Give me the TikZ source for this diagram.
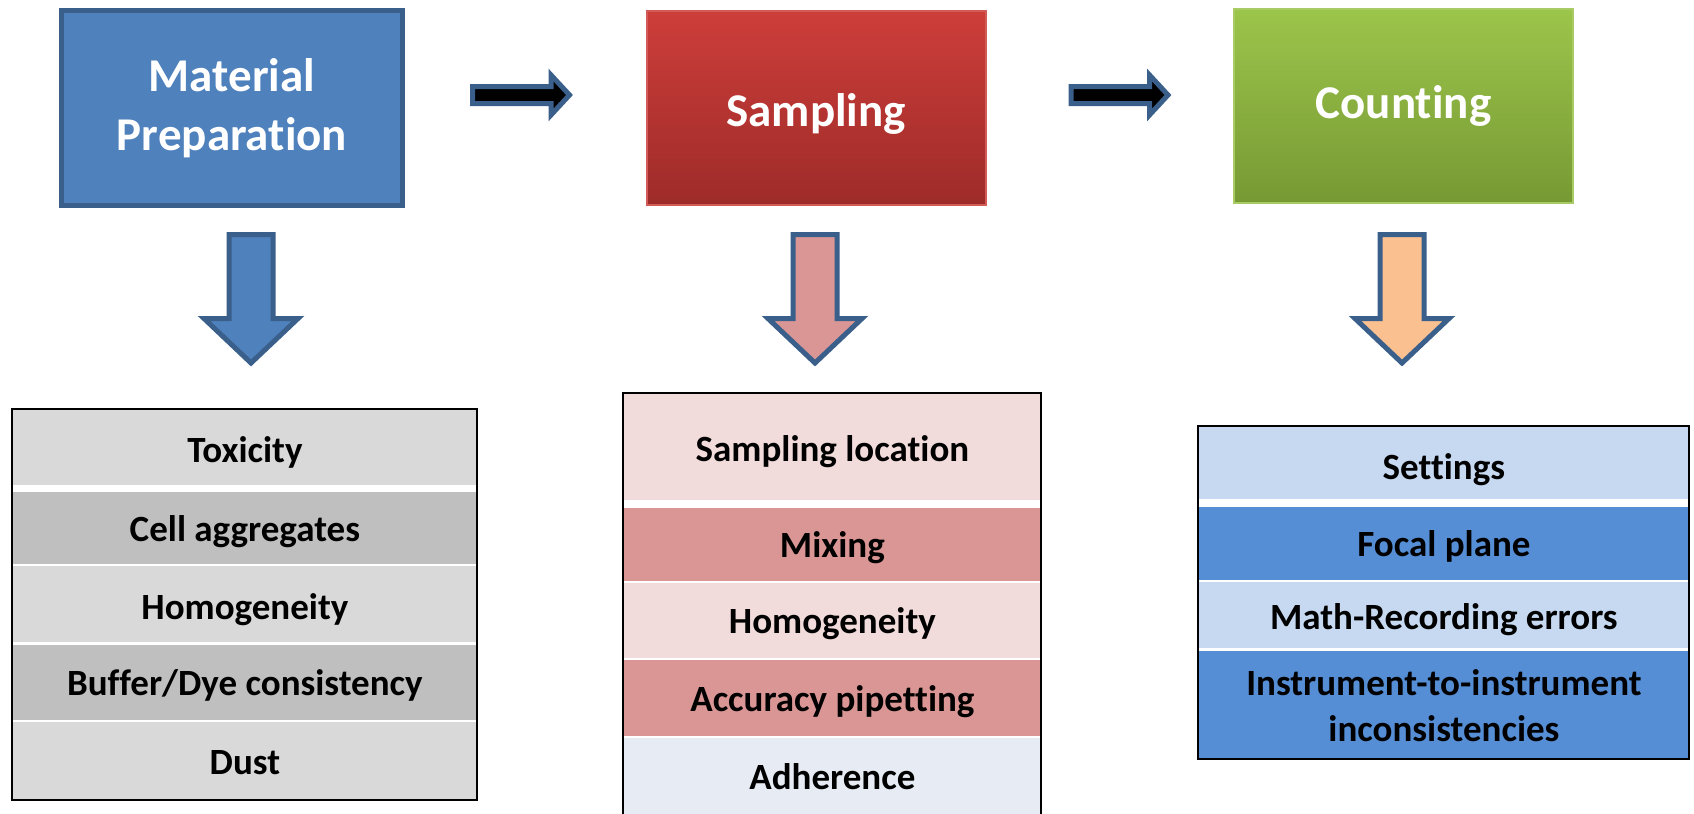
\documentclass[tikz,border=0pt]{standalone}
\usepackage{fontspec}
\setmainfont{Carlito}[Ligatures=NoCommon]
\newdimen\px \px=0.5pt
\definecolor{mpblue}{HTML}{4F81BD}
\definecolor{edgeblue}{HTML}{3A5F8B}
\definecolor{redtop}{HTML}{CD3E3A}
\definecolor{redbot}{HTML}{9E2B29}
\definecolor{redline}{HTML}{D25A57}
\definecolor{greentop}{HTML}{9CC54B}
\definecolor{greenbot}{HTML}{779934}
\definecolor{greenline}{HTML}{A8CB65}
\definecolor{pinkarrow}{HTML}{D99694}
\definecolor{orangearrow}{HTML}{FAC090}
\definecolor{grayA}{HTML}{D9D9D9}
\definecolor{grayB}{HTML}{BFBFBF}
\definecolor{pinkA}{HTML}{F2DCDB}
\definecolor{pinkB}{HTML}{D99694}
\definecolor{paleblue}{HTML}{E7ECF4}
\definecolor{blueA}{HTML}{C6D9F1}
\definecolor{blueB}{HTML}{558ED5}
\tikzset{
  x=0.5pt, y=-0.5pt,
  title/.style={text=white, font=\fontsize{23.5}{29.5}\selectfont\bfseries, align=center, anchor=north west, inner sep=0pt},
  rowbox/.style={fill=#1, anchor=north west, inner sep=0pt, font=\fontsize{18.5}{23}\selectfont\bfseries, align=center},
  blockarrow/.style={draw=edgeblue, line width=5\px, line join=miter},
  tableframe/.style={draw=black, line width=2.5\px},
}
% text of a table row: baseline set 13px (+#1) below the row centre
\newcommand{\rowtext}[2]{\raisebox{-\dimexpr 13\px+#1\px\relax}[0pt][0pt]{#2}}
\begin{document}
\begin{tikzpicture}
\clip (0,0) rectangle (1694,814);
\useasboundingbox (0,0) rectangle (1694,814);
\fill[white] (0,0) rectangle (1694,814);
% top boxes
\node[title, fill=mpblue, draw=edgeblue, line width=5\px, minimum width=341\px, minimum height=195\px] (mat) at (59,8) {Material\\Preparation};
\node[title, top color=redtop, bottom color=redbot, draw=redline, line width=1.5\px, minimum width=339\px, minimum height=194\px, text depth=0pt] (samp) at (646,10) {\raisebox{-2pt}{Sampling}};
\node[title, top color=greentop, bottom color=greenbot, draw=greenline, line width=2\px, minimum width=339\px, minimum height=194\px] (count) at (1233,8) {Counting};
% right arrows
\coordinate (r1) at (472.5,95);
\coordinate (r2) at (1071,95);
\foreach \s in {r1,r2}{
  \draw[blockarrow, fill=black] (\s) ++(0,-8.5) -- ++(78.5,0) -- ++(0,-11.5) -- ++(18.5,20) -- ++(-18.5,20) -- ++(0,-11.5) -- ++(-78.5,0) -- cycle;
}
% down arrows
\coordinate (d1) at (251,234.5);
\coordinate (d2) at (815,234.5);
\coordinate (d3) at (1402,234.5);
\foreach \c/\col in {d1/mpblue,d2/pinkarrow,d3/orangearrow}{
  \draw[blockarrow, fill=\col] (\c) ++(-22,0) -- ++(44,0) -- ++(0,84) -- ++(25,0) -- ++(-47,44.5) -- ++(-47,-44.5) -- ++(25,0) -- cycle;
}
% table 1
\node[rowbox=grayA, minimum width=465\px, minimum height=76\px] (t1a) at (12,409) {\rowtext{2}{Toxicity}};
\node[rowbox=grayB, minimum width=465\px, minimum height=72\px] (t1b) at (12,492) {\rowtext{0}{Cell aggregates}};
\node[rowbox=grayA, minimum width=465\px, minimum height=76\px] (t1c) at (12,566) {\rowtext{2}{Homogeneity}};
\node[rowbox=grayB, minimum width=465\px, minimum height=75\px] (t1d) at (12,645) {\rowtext{0}{Buffer/Dye consistency}};
\node[rowbox=grayA, minimum width=465\px, minimum height=78\px] (t1e) at (12,722) {\rowtext{0}{Dust}};
\draw[tableframe] (12,409) rectangle (477,800);
% table 2
\node[rowbox=pinkA, minimum width=418\px, minimum height=107\px] (t2a) at (623,393) {\rowtext{2}{Sampling location}};
\node[rowbox=pinkB, minimum width=418\px, minimum height=73\px] (t2b) at (623,508) {\rowtext{0}{Mixing}};
\node[rowbox=pinkA, minimum width=418\px, minimum height=75\px] (t2c) at (623,583) {\rowtext{0}{Homogeneity}};
\node[rowbox=pinkB, minimum width=418\px, minimum height=76\px] (t2d) at (623,660) {\rowtext{0}{Accuracy pipetting}};
\node[rowbox=paleblue, minimum width=418\px, minimum height=76\px] (t2e) at (623,738) {\rowtext{0}{Adherence}};
\draw[tableframe] (623,393) rectangle (1041,830);
% table 3
\node[rowbox=blueA, minimum width=491\px, minimum height=73\px] (t3a) at (1198,426) {\rowtext{4}{Settings}};
\node[rowbox=blueB, minimum width=491\px, minimum height=73\px] (t3b) at (1198,507) {\rowtext{0}{Focal plane}};
\node[rowbox=blueA, minimum width=491\px, minimum height=66\px] (t3c) at (1198,582) {\rowtext{1}{Math-Recording errors}};
\node[rowbox=blueB, minimum width=491\px, minimum height=108\px] (t3d) at (1198,651) {Instrument-to-instrument\\inconsistencies};
\draw[tableframe] (1198,426) rectangle (1689,759);
\end{tikzpicture}
\end{document}
